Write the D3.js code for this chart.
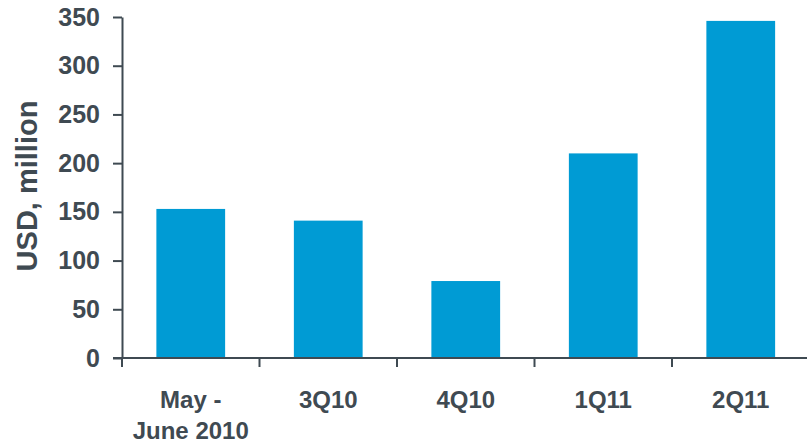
<!DOCTYPE html>
<html>
<head>
<meta charset="utf-8">
<script src="https://cdn.jsdelivr.net/npm/d3@7"></script>
<style>
  html, body { margin: 0; padding: 0; background: #fff; }
  svg { display: block; }
</style>
</head>
<body>
<div id="chart"></div>
<script>
// Quarterly value, USD million
var categories = [["May -", "June 2010"], ["3Q10"], ["4Q10"], ["1Q11"], ["2Q11"]];
var values = [153, 141, 79, 210, 346];
var yTicks = [0, 50, 100, 150, 200, 250, 300, 350];
var yTitle = "USD, million";

var width = 807, height = 443;
var textColor = "#3f4a52";
var barColor = "#009bd4";
var font = "'Liberation Sans', Arial, sans-serif";

var svg = d3.select("#chart").append("svg")
    .attr("width", width)
    .attr("height", height);

var xScale = d3.scaleBand()
    .domain(d3.range(categories.length))
    .range([122, 809.5])
    .paddingInner(0.5)
    .paddingOuter(0.25);

var yScale = d3.scaleLinear()
    .domain([0, 350])
    .range([358, 17]);

// bars
svg.append("g").selectAll("rect")
    .data(values)
    .enter().append("rect")
    .attr("x", function(d, i) { return xScale(i); })
    .attr("y", function(d) { return yScale(d); })
    .attr("width", xScale.bandwidth())
    .attr("height", function(d) { return yScale(0) - yScale(d); })
    .attr("fill", barColor);

// y axis
var yAxis = d3.axisLeft(yScale)
    .tickValues(yTicks)
    .tickSize(9)
    .tickSizeOuter(0)
    .tickPadding(13);

var yAxisG = svg.append("g")
    .attr("transform", "translate(122,0)")
    .call(yAxis);
yAxisG.select(".domain").attr("stroke", textColor).attr("stroke-width", 2);
yAxisG.selectAll(".tick line").attr("stroke", textColor).attr("stroke-width", 2);
yAxisG.selectAll(".tick text")
    .attr("fill", textColor)
    .attr("font-family", font)
    .attr("font-weight", "bold")
    .attr("font-size", 25);

// x axis line, extended to the left edge of the 0 tick
var step = xScale.step();
svg.append("line")
    .attr("x1", 113)
    .attr("x2", width)
    .attr("y1", yScale(0))
    .attr("y2", yScale(0))
    .attr("stroke", textColor)
    .attr("stroke-width", 2);

// x ticks on the category boundaries
var boundaries = d3.range(categories.length + 1).map(function(i) {
  return xScale.range()[0] + i * step;
});
svg.append("g").selectAll("line")
    .data(boundaries)
    .enter().append("line")
    .attr("x1", function(d) { return d; })
    .attr("x2", function(d) { return d; })
    .attr("y1", yScale(0))
    .attr("y2", yScale(0) + 9)
    .attr("stroke", textColor)
    .attr("stroke-width", 2);

// x labels
var labels = svg.append("g").selectAll("text")
    .data(categories)
    .enter().append("text")
    .attr("x", function(d, i) { return xScale(i) + xScale.bandwidth() / 2; })
    .attr("y", 408)
    .attr("text-anchor", "middle")
    .attr("fill", textColor)
    .attr("font-family", font)
    .attr("font-weight", "bold")
    .attr("font-size", 24);

labels.selectAll("tspan")
    .data(function(d) { return d; })
    .enter().append("tspan")
    .attr("x", function() { return d3.select(this.parentNode).attr("x"); })
    .attr("dy", function(d, i) { return i === 0 ? 0 : 31; })
    .text(function(d) { return d; });

// y title
svg.append("text")
    .attr("transform", "translate(37,186) rotate(-90)")
    .attr("text-anchor", "middle")
    .attr("fill", textColor)
    .attr("font-family", font)
    .attr("font-weight", "bold")
    .attr("font-size", 29)
    .text(yTitle);
</script>
</body>
</html>
